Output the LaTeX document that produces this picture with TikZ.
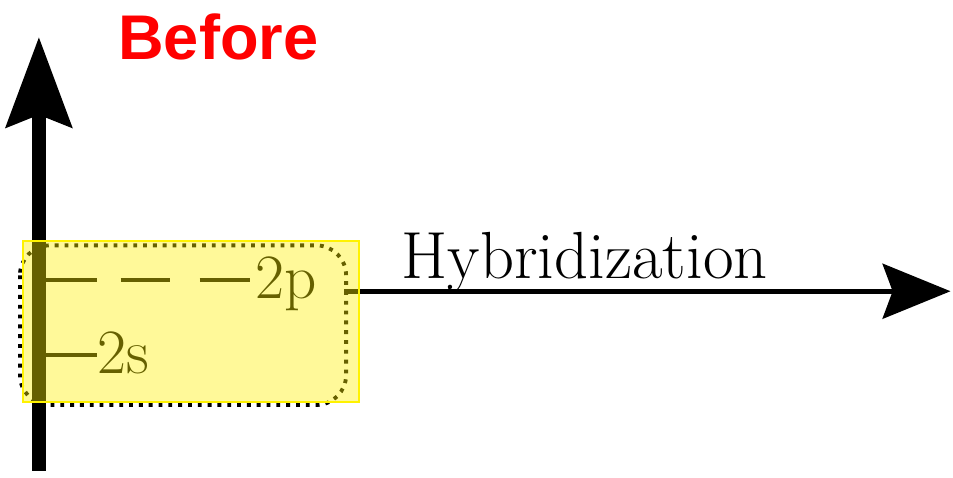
\documentclass[tikz,border=0pt]{standalone}
\usepackage{fontspec}
\newfontfamily\headfont{Liberation Sans}
\usetikzlibrary{arrows.meta}

\begin{document}
\begin{tikzpicture}[x=0.01cm,y=-0.01cm,
    axis/.style={draw=black},
    level/.style={draw=black,line width=1.2pt},
    lbl/.style={inner sep=0pt,anchor=base west,font=\fontsize{18}{20}\selectfont},
    group/.style={draw=black,line width=1.1pt,dash pattern=on 1.1pt off 1.7pt,rounded corners=0.3cm},
    highlight/.style={fill=yellow,fill opacity=0.4,draw=yellow,line width=0.6pt}]
    \fill[white] (0,0) rectangle (953,472);
    % energy axis and reaction axis
    \coordinate (ybot) at (39,472);
    \coordinate (ytop) at (39,37);
    \coordinate (xbeg) at (345,292);
    \coordinate (xend) at (953,292);
    \draw[axis,line width=0.14cm,-{Stealth[length=0.9cm,width=0.65cm,inset=0.12cm]}] (ybot) -- (ytop);
    \draw[axis,line width=0.05cm,-{Stealth[length=0.68cm,width=0.55cm,inset=0.1cm]}] (xbeg) -- (xend);
    \node[anchor=base west,inner sep=0pt,text=red,font=\headfont\bfseries\fontsize{18}{20}\selectfont] (before) at (118,60) {Before};
    \node[anchor=base west,inner sep=0pt,font=\fontsize{19}{22}\selectfont] (hyb) at (402,279) {Hybridization};
    % orbital levels
    \node[lbl] (lbl2p) at (255,299) {2p};
    \node[lbl] (lbl2s) at (97,374) {2s};
    \coordinate (lv2p) at (46,281);
    \coordinate (lv2s) at (46,356);
    \draw[level,dash pattern=on 0.51cm off 0.24cm on 0.49cm off 0.3cm] (lv2p) -- (lv2p -| lbl2p.west);
    \draw[level] (lv2s) -- (lv2s -| lbl2s.west);
    % atom group and highlight
    \draw[group] (20,246) rectangle (347,406);
    \draw[highlight] (23,242) rectangle (360,403);
\end{tikzpicture}
\end{document}
